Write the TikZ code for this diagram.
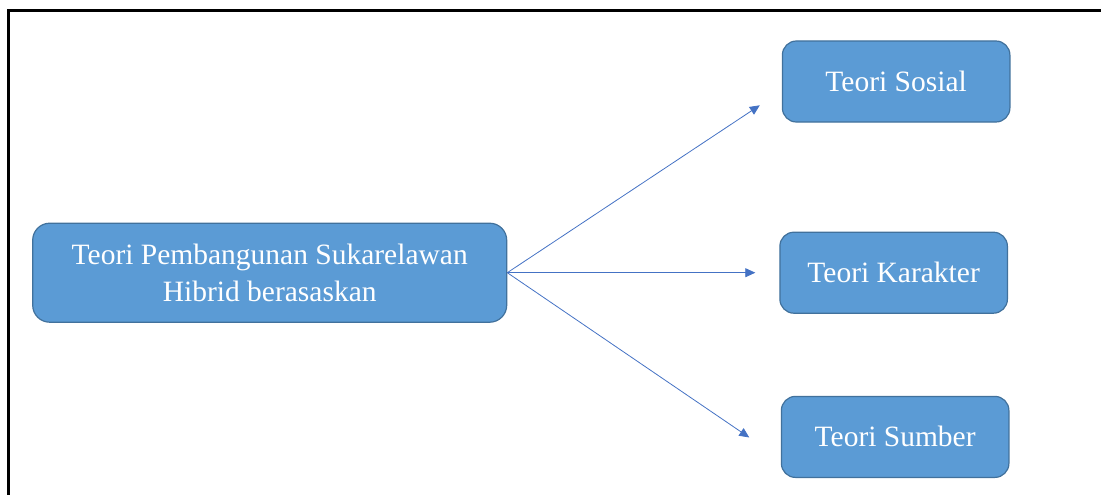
\documentclass[tikz,border=0pt]{standalone}
\usepackage{fontspec}
\setmainfont{Liberation Serif}
\usetikzlibrary{positioning,arrows.meta}
\definecolor{boxblue}{HTML}{5B9BD5}
\definecolor{boxborder}{HTML}{41719C}
\definecolor{panahblue}{HTML}{4472C4}
\begin{document}
\begin{tikzpicture}[
		x=1pt,y=1pt,
		node distance=109pt and 272pt,
		teoribox/.style={draw=boxborder,line width=1.2pt,fill=boxblue,rounded corners=14pt,
			text=white,align=center,font=\fontsize{29.5}{36.5}\selectfont,
			minimum width=227.5pt,minimum height=81pt},
		panah/.style={color=panahblue,line width=0.8pt,-{Triangle[length=10pt,width=9pt]}}
		]
		\useasboundingbox (0,0) rectangle (1101,-495);
		\draw[line width=2.6pt] (8.3,-495) -- (8.3,-10.7) -- (1101,-10.7);
		\node[teoribox,minimum width=474pt,minimum height=99pt,rounded corners=17pt] (pembangunan) at (269.7,-272.7)
		{Teori Pembangunan Sukarelawan\\Hibrid berasaskan};
		\node[teoribox,right=272pt of pembangunan] (karakter) {Teori Karakter};
		\node[teoribox,above=109pt of karakter,xshift=2.5pt] (sosial) {Teori Sosial};
		\node[teoribox,below=82pt of karakter,xshift=1.5pt] (sumber) {Teori Sumber};
		\coordinate (sosialtip) at ([xshift=-22pt,yshift=-23.8pt]sosial.west);
		\coordinate (karaktertip) at ([xshift=-24pt]karakter.west);
		\coordinate (sumbertip) at ([xshift=-31.5pt,yshift=-0.6pt]sumber.west);
		\path
		(pembangunan.east) edge[panah] (sosialtip)
		(pembangunan.east) edge[panah] (karaktertip)
		(pembangunan.east) edge[panah] (sumbertip);
	\end{tikzpicture}
\end{document}
